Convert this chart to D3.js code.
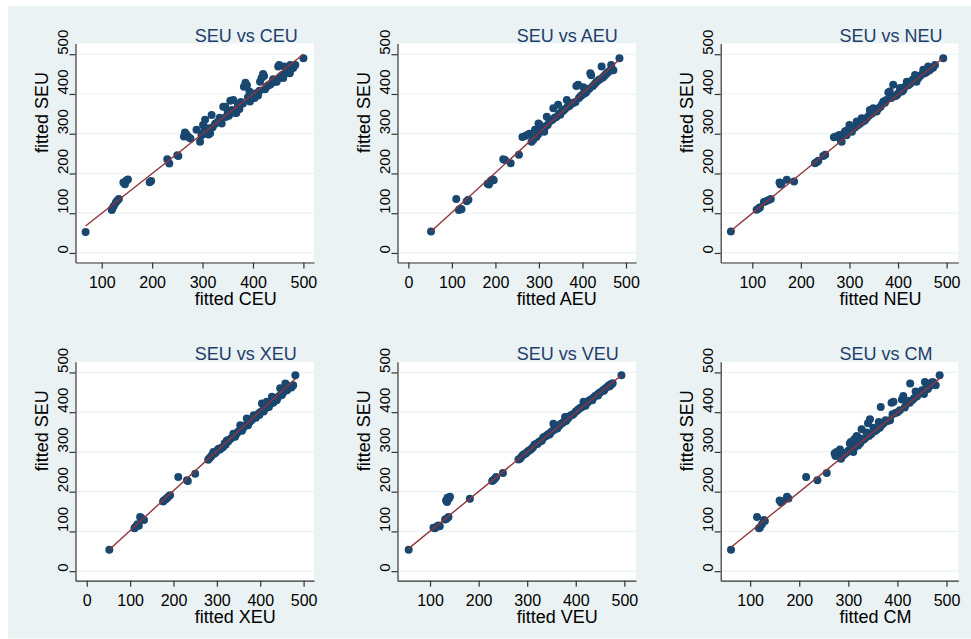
<!DOCTYPE html>
<html>
<head>
<meta charset="utf-8">
<script src="https://cdn.jsdelivr.net/npm/d3@7"></script>
<style>
  body { margin: 0; background: #fff; }
  svg text { font-family: "Liberation Sans", Arial, sans-serif; }
</style>
</head>
<body>
<svg id="chart"></svg>
<script>
const titles = ["SEU vs CEU", "SEU vs AEU", "SEU vs NEU", "SEU vs XEU", "SEU vs VEU", "SEU vs CM"];
const xLabels = ["fitted CEU", "fitted AEU", "fitted NEU", "fitted XEU", "fitted VEU", "fitted CM"];
const yLabel = "fitted SEU";

const yTicks = [0, 100, 200, 300, 400, 500];
const xTicks = [
  [100, 200, 300, 400, 500],
  [0, 100, 200, 300, 400, 500],
  [100, 200, 300, 400, 500],
  [0, 100, 200, 300, 400, 500],
  [100, 200, 300, 400, 500],
  [100, 200, 300, 400, 500]
];
const yDomain = [-24, 527];
const xDomains = [[48, 521], [-25, 523], [35, 524], [-26, 524], [33, 524], [40, 524]];

// fitted line ends: x0, y0, x1, y1
const fitLines = [
  [68, 68, 500, 500],
  [52, 54, 485, 487],
  [56, 56, 492, 490],
  [53, 55, 481, 484],
  [55, 56, 494, 493],
  [61, 60, 488, 487]
];

const ceuPts = [
  [68, 53], [120, 108], [121, 112], [124, 118], [128, 127], [131, 132], [134, 136],
  [143, 177], [146, 173], [149, 182], [152, 185], [195, 178], [198, 181],
  [230, 236], [234, 225], [250, 246], [252, 244],
  [263, 293], [265, 303], [268, 298], [272, 292], [276, 288], [288, 310], [295, 280],
  [298, 296], [301, 322], [303, 306], [305, 335], [308, 300], [310, 314], [312, 298],
  [315, 301], [318, 347], [320, 316], [325, 325], [330, 330], [334, 340], [338, 326],
  [341, 368], [345, 368], [346, 342], [350, 356], [352, 345], [355, 383], [358, 360],
  [361, 385], [364, 352], [367, 352], [370, 372], [373, 362], [376, 380], [380, 376],
  [382, 418], [385, 428], [388, 422], [390, 392], [393, 406], [394, 381], [396, 398],
  [400, 395], [403, 390], [406, 402], [410, 396], [413, 408], [414, 431], [417, 440],
  [420, 450], [422, 445], [424, 412], [427, 418], [430, 422], [434, 423], [437, 428],
  [440, 437], [442, 430], [445, 434], [447, 431], [450, 469], [452, 473], [453, 440],
  [456, 445], [458, 448], [460, 440], [462, 469], [464, 452], [467, 455], [470, 458],
  [473, 452], [474, 473], [476, 462], [480, 466], [484, 473], [500, 490]
];

const aeuPts = [
  [52, 54], [110, 136], [116, 108], [119, 111], [122, 110], [134, 130], [138, 134],
  [182, 174], [185, 172], [187, 178], [190, 182], [194, 185], [196, 183],
  [218, 236], [222, 234], [235, 226], [254, 247],
  [262, 292], [268, 294], [275, 298], [279, 300], [283, 280], [287, 285], [291, 310],
  [294, 292], [298, 298], [299, 326], [302, 322], [305, 306], [308, 312], [312, 305],
  [315, 318], [318, 343], [320, 322], [324, 330], [327, 333], [331, 335], [333, 364],
  [336, 340], [340, 342], [344, 373], [346, 350], [349, 348], [352, 355], [356, 358],
  [360, 362], [364, 385], [366, 368], [370, 370], [373, 374], [377, 377], [380, 378],
  [384, 380], [386, 420], [390, 423], [392, 390], [396, 395], [400, 398], [402, 417],
  [405, 402], [408, 404], [412, 410], [416, 414], [418, 452], [420, 447], [424, 420],
  [428, 425], [432, 430], [436, 434], [440, 437], [444, 469], [446, 441], [449, 444],
  [452, 448], [455, 451], [458, 454], [462, 458], [466, 473], [468, 462], [471, 460],
  [485, 490]
];

const neuPts = [
  [56, 54], [109, 109], [113, 112], [116, 115], [124, 128], [128, 130], [134, 133],
  [138, 136], [156, 177], [158, 172], [160, 175], [171, 184], [186, 180],
  [229, 226], [233, 229], [236, 232], [246, 244], [250, 247],
  [268, 291], [272, 293], [279, 297], [282, 283], [284, 280], [288, 300], [291, 306],
  [294, 296], [297, 310], [300, 322], [303, 318], [305, 305], [308, 314], [312, 316],
  [315, 331], [318, 322], [322, 326], [325, 339], [328, 331], [332, 334], [336, 340],
  [340, 345], [342, 360], [346, 350], [349, 364], [352, 356], [356, 356], [360, 364],
  [364, 368], [367, 374], [370, 381], [373, 378], [376, 385], [380, 404], [383, 406],
  [386, 390], [390, 423], [393, 394], [397, 396], [400, 401], [404, 415], [408, 406],
  [411, 410], [414, 418], [418, 431], [421, 422], [425, 426], [430, 436], [435, 448],
  [438, 431], [442, 440], [446, 446], [450, 450], [452, 461], [455, 452], [459, 455],
  [462, 469], [465, 460], [468, 464], [472, 466], [476, 473], [493, 490]
];

const xeuPts = [
  [52, 54], [110, 108], [112, 111], [117, 118], [120, 114], [123, 136], [126, 134],
  [132, 129], [176, 175], [178, 178], [182, 181], [185, 184], [188, 187], [192, 191],
  [211, 237], [231, 229], [233, 227], [250, 245],
  [280, 280], [283, 284], [286, 288], [289, 292], [292, 300], [295, 296], [298, 299],
  [301, 304], [304, 308], [307, 306], [310, 310], [314, 312], [318, 322], [320, 318],
  [323, 329], [326, 326], [330, 332], [334, 335], [338, 346], [341, 341], [342, 338],
  [344, 344], [347, 348], [350, 352], [354, 367], [356, 357], [358, 353], [359, 360],
  [362, 362], [365, 366], [369, 384], [371, 372], [372, 367], [375, 375], [378, 378],
  [382, 382], [385, 392], [388, 388], [390, 386], [392, 392], [396, 396], [398, 393],
  [400, 400], [404, 422], [406, 404], [408, 402], [410, 408], [414, 411], [415, 426],
  [418, 416], [420, 413], [421, 419], [424, 422], [427, 439], [429, 427], [430, 424],
  [432, 429], [436, 433], [438, 430], [440, 437], [444, 441], [446, 460], [448, 444],
  [450, 443], [452, 448], [455, 452], [458, 472], [460, 456], [462, 455], [464, 460],
  [467, 463], [470, 466], [472, 462], [476, 468], [481, 493]
];

const veuPts = [
  [56, 54], [107, 109], [110, 108], [114, 112], [117, 115], [120, 113], [131, 130],
  [134, 132], [138, 136], [133, 178], [135, 174], [136, 185], [139, 183], [141, 187],
  [182, 182], [228, 227], [230, 229], [233, 232], [236, 237], [250, 247],
  [282, 281], [285, 283], [288, 287], [291, 292], [294, 294], [297, 296], [300, 300],
  [303, 303], [306, 305], [309, 308], [312, 312], [315, 318], [318, 320], [321, 320],
  [324, 325], [327, 327], [330, 330], [330, 328], [333, 336], [336, 338], [339, 340],
  [342, 343], [345, 346], [346, 344], [348, 348], [351, 352], [354, 371], [356, 356],
  [359, 360], [362, 362], [362, 359], [366, 366], [369, 370], [372, 372], [375, 375],
  [378, 388], [380, 378], [381, 388], [384, 384], [387, 389], [390, 392], [393, 393],
  [396, 396], [400, 402], [403, 404], [406, 408], [410, 411], [413, 413], [416, 426],
  [418, 419], [420, 416], [422, 423], [425, 425], [428, 430], [432, 432], [434, 430],
  [436, 436], [440, 441], [444, 444], [446, 442], [448, 448], [452, 451], [456, 455],
  [458, 454], [460, 459], [464, 463], [468, 467], [470, 465], [472, 470], [474, 470],
  [476, 473], [494, 493]
];

const cmPts = [
  [61, 54], [114, 136], [118, 108], [120, 110], [124, 118], [128, 129], [130, 126],
  [160, 178], [163, 173], [166, 176], [175, 187], [178, 183], [214, 237], [237, 229],
  [256, 247],
  [272, 296], [274, 290], [276, 300], [283, 306], [285, 283], [288, 290], [292, 294],
  [296, 298], [300, 303], [303, 321], [305, 325], [306, 306], [310, 300], [312, 332],
  [313, 312], [317, 340], [320, 316], [322, 335], [324, 322], [327, 357], [330, 330],
  [334, 334], [337, 349], [340, 372], [342, 340], [344, 382], [347, 345], [351, 361],
  [354, 352], [358, 356], [362, 375], [364, 361], [366, 413], [368, 368], [372, 372],
  [376, 380], [380, 378], [385, 380], [388, 424], [390, 395], [392, 426], [396, 398],
  [400, 400], [405, 405], [409, 432], [412, 441], [415, 412], [418, 420], [422, 428],
  [425, 424], [426, 472], [430, 430], [434, 435], [437, 452], [440, 440], [442, 446],
  [446, 450], [450, 455], [454, 446], [456, 476], [459, 463], [462, 458], [466, 466],
  [470, 475], [473, 475], [478, 468], [486, 493]
];

const panelPts = [ceuPts, aeuPts, neuPts, xeuPts, veuPts, cmPts];

const W = 971, H = 639;
const cols = [{ left: 75.5, right: 314 }, { left: 397.5, right: 636 }, { left: 720.7, right: 958.3 }];
const rows = [{ top: 43.5, bottom: 262.5 }, { top: 361.7, bottom: 580.7 }];

const svg = d3.select("#chart").attr("width", W).attr("height", H);

svg.append("rect").attr("width", W).attr("height", H).attr("fill", "#fff");
svg
  .append("rect")
  .attr("x", 8)
  .attr("y", 6)
  .attr("width", W - 8)
  .attr("height", H - 6.5)
  .attr("fill", "#eaf2f3");

titles.forEach((t, i) => drawPanel(i));

function drawPanel(i) {
  const c = cols[i % 3], r = rows[Math.floor(i / 3)];
  const w = c.right - c.left, h = r.bottom - r.top;

  const g = svg.append("g").attr("transform", `translate(${c.left},${r.top})`);

  const x = d3.scaleLinear().domain(xDomains[i]).range([0, w]);
  const y = d3.scaleLinear().domain(yDomain).range([h, 0]);

  g.append("rect").attr("width", w).attr("height", h).attr("fill", "#fff");

  // grid
  g.selectAll(".grid")
    .data(yTicks)
    .enter()
    .append("line")
    .attr("x1", 0)
    .attr("x2", w)
    .attr("y1", (d) => y(d))
    .attr("y2", (d) => y(d))
    .attr("stroke", "#eaf2f3")
    .attr("stroke-width", 1.2);

  // points
  g.selectAll("circle")
    .data(panelPts[i])
    .enter()
    .append("circle")
    .attr("cx", (d) => x(d[0]))
    .attr("cy", (d) => y(d[1]))
    .attr("r", 4)
    .attr("fill", "#1a476f");

  const f = fitLines[i];
  g.append("line")
    .attr("x1", x(f[0]))
    .attr("y1", y(f[1]))
    .attr("x2", x(f[2]))
    .attr("y2", y(f[3]))
    .attr("stroke", "#90353b")
    .attr("stroke-width", 1.4);

  // axes
  const yAxis = g
    .append("g")
    .call(d3.axisLeft(y).tickValues(yTicks).tickSize(6).tickSizeOuter(0));
  yAxis
    .selectAll("text")
    .attr("transform", "rotate(-90)")
    .attr("x", 0)
    .attr("y", -8)
    .attr("dy", 0)
    .attr("text-anchor", "start")
    .attr("font-size", "15px")
    .attr("fill", "#000");

  const xAxis = g
    .append("g")
    .attr("transform", `translate(0,${h})`)
    .call(d3.axisBottom(x).tickValues(xTicks[i]).tickSize(6).tickSizeOuter(0));
  xAxis
    .selectAll("text")
    .attr("y", 25)
    .attr("dy", 0)
    .attr("font-size", "16px")
    .attr("fill", "#000");

  g.selectAll(".domain, .tick line").attr("stroke", "#333").attr("stroke-width", 1.2);

  // texts
  g.append("text")
    .attr("x", w / 2)
    .attr("y", -1.8)
    .attr("font-size", "18px")
    .attr("fill", "#1e3d6b")
    .text(titles[i]);

  g.append("text")
    .attr("x", w / 2)
    .attr("y", h + 42.5)
    .attr("font-size", "18px")
    .attr("fill", "#000")
    .text(xLabels[i]);

  g.append("text")
    .attr("transform", `translate(-27.5,${h / 2}) rotate(-90)`)
    .attr("font-size", "18px")
    .attr("fill", "#000")
    .text(yLabel);
}
</script>
</body>
</html>
